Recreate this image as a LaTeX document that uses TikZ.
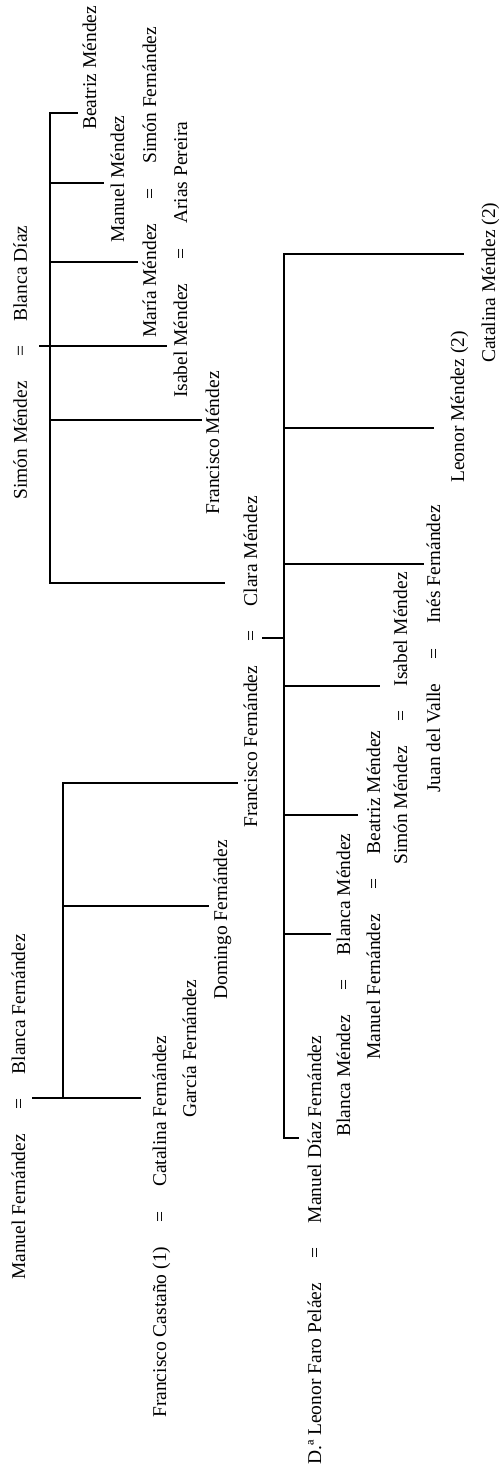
\documentclass[tikz,border=0pt]{standalone}
\usepackage{fontspec}
\setmainfont{Liberation Serif}
\newcommand\eqs{\hspace{1.25em}=\hspace{1.25em}}
\begin{document}
\begin{tikzpicture}[x=1pt,y=-1pt,
  lbl/.style={rotate=90, anchor=base west, inner sep=0pt, font=\fontsize{19.5}{22}\selectfont},
  ln/.style={line width=1.8pt, line cap=rect}]
\useasboundingbox (0,0) rectangle (500,1470);
% ---------- labels ----------
\node[lbl] (a0) at (27,500) {Simón Méndez\eqs Blanca Díaz};
\node[lbl] (a1) at (96,130) {Beatriz Méndez};
\node[lbl] (a2) at (124,243) {Manuel Méndez};
\node[lbl] (a3) at (156,338) {María Méndez\eqs Simón Fernández};
\node[lbl] (a4) at (187,398) {Isabel Méndez\eqs Arias Pereira};
\node[lbl] (a5) at (219,515) {Francisco Méndez};
\node[lbl] (c0) at (257,828) {Francisco Fernández\eqs Clara Méndez};
\node[lbl] (c1) at (495,363) {Catalina Méndez (2)};
\node[lbl] (c2) at (464,483) {Leonor Méndez (2)};
\node[lbl] (c3) at (440,793) {Juan del Valle\eqs Inés Fernández};
\node[lbl] (c4) at (407,865) {Simón Méndez\eqs Isabel Méndez};
\node[lbl] (c5) at (380,1060) {Manuel Fernández\eqs Beatriz Méndez};
\node[lbl] (c6) at (350,1137) {Blanca Méndez\eqs Blanca Méndez};
\node[lbl] (c7) at (321,1465) {D.ª Leonor Faro Peláez\eqs Manuel Díaz Fernández};
\node[lbl] (b0) at (25,1280) {Manuel Fernández\eqs Blanca Fernández};
\node[lbl] (b1) at (166,1418) {Francisco Castaño (1)\eqs Catalina Fernández};
\node[lbl] (b2) at (196,1118) {García Fernández};
\node[lbl] (b3) at (227,1000) {Domingo Fernández};
% ---------- family A: Simón Méndez = Blanca Díaz ----------
\coordinate (aT) at (50,113);
\coordinate (aB) at (50,583);
\coordinate (aP) at (40,346);
\coordinate (a1e) at (77,113);
\coordinate (a2s) at (50,183);  \coordinate (a2e) at (103,183);
\coordinate (a3s) at (50,262);  \coordinate (a3e) at (137,262);
\coordinate (a4e) at (166,346);
\coordinate (a5s) at (50,420);  \coordinate (a5e) at (201,420);
\coordinate (a6e) at (224,583);
\draw[ln] (a1e) -- (aT) -- (aB) -- (a6e);
\draw[ln] (a2s) -- (a2e);
\draw[ln] (a3s) -- (a3e);
\draw[ln] (aP) -- (a4e);
\draw[ln] (a5s) -- (a5e);
% ---------- family B: Manuel Fernández = Blanca Fernández ----------
\coordinate (bT) at (63,783);
\coordinate (bB) at (63,1098);
\coordinate (bP) at (33,1098);
\coordinate (b1e) at (140,1098);
\coordinate (b3s) at (63,906);  \coordinate (b3e) at (208,906);
\coordinate (b4e) at (237,783);
\draw[ln] (b4e) -- (bT) -- (bB);
\draw[ln] (bP) -- (b1e);
\draw[ln] (b3s) -- (b3e);
% ---------- family C: Francisco Fernández = Clara Méndez ----------
\coordinate (cT) at (284,254);
\coordinate (cB) at (284,1138);
\coordinate (c1e) at (463,254);
\coordinate (c2s) at (284,428);  \coordinate (c2e) at (433,428);
\coordinate (c3s) at (284,564);  \coordinate (c3e) at (423,564);
\coordinate (cPs) at (263,638);  \coordinate (cPe) at (284,638);
\coordinate (c4s) at (284,686);  \coordinate (c4e) at (379,686);
\coordinate (c5s) at (284,815);  \coordinate (c5e) at (357,815);
\coordinate (c6s) at (284,934);  \coordinate (c6e) at (330,934);
\coordinate (c7e) at (298,1138);
\draw[ln] (c1e) -- (cT) -- (cB) -- (c7e);
\draw[ln] (c2s) -- (c2e);
\draw[ln] (c3s) -- (c3e);
\draw[ln] (cPs) -- (cPe);
\draw[ln] (c4s) -- (c4e);
\draw[ln] (c5s) -- (c5e);
\draw[ln] (c6s) -- (c6e);
\end{tikzpicture}
\end{document}
